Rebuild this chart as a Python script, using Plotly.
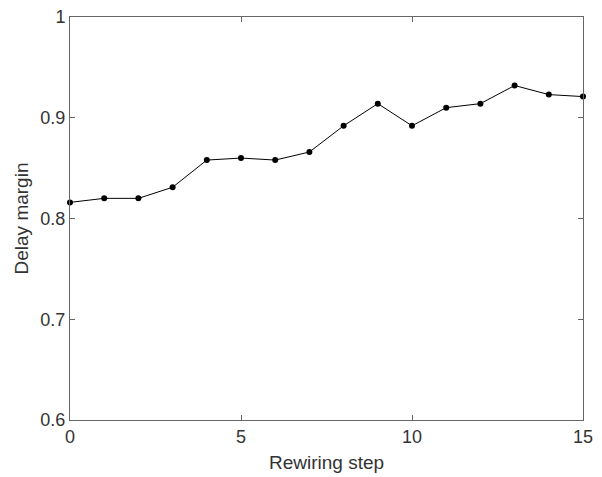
import plotly.graph_objects as go

steps = list(range(16))
delay_margin = [0.816, 0.820, 0.820, 0.831, 0.858, 0.860, 0.858, 0.866,
                0.892, 0.914, 0.892, 0.910, 0.914, 0.932, 0.923, 0.921]
x_ticks = [0, 5, 10, 15]
y_ticks = [0.6, 0.7, 0.8, 0.9, 1.0]
y_tick_labels = ["0.6", "0.7", "0.8", "0.9", "1"]

FONT = "Liberation Sans, Arial, Helvetica, sans-serif"

fig = go.Figure()
fig.add_trace(go.Scatter(
    x=steps, y=delay_margin, mode="lines+markers",
    line=dict(color="black", width=1),
    marker=dict(color="black", size=6),
    showlegend=False, cliponaxis=False,
))

axis_common = dict(
    showgrid=False, zeroline=False, showline=True, linecolor="#666666",
    linewidth=1, mirror="ticks", ticks="inside", ticklen=5, tickcolor="#666666",
    tickfont=dict(family=FONT, size=18, color="#333333"),
    ticklabeloverflow="allow",
)
fig.update_xaxes(range=[0, 15], tickvals=x_ticks,
                 title=dict(text="Rewiring step", standoff=10,
                            font=dict(family=FONT, size=19, color="#333333")),
                 **axis_common)
fig.update_yaxes(range=[0.6, 1.0], tickvals=y_ticks, ticktext=y_tick_labels,
                 title=dict(text="Delay margin", standoff=6,
                            font=dict(family=FONT, size=19, color="#333333")),
                 **axis_common)
fig.update_layout(
    width=594, height=469,
    margin=dict(l=62, r=19, t=9, b=57, autoexpand=False),
    plot_bgcolor="white", paper_bgcolor="white",
)
fig.write_html("out.html")
